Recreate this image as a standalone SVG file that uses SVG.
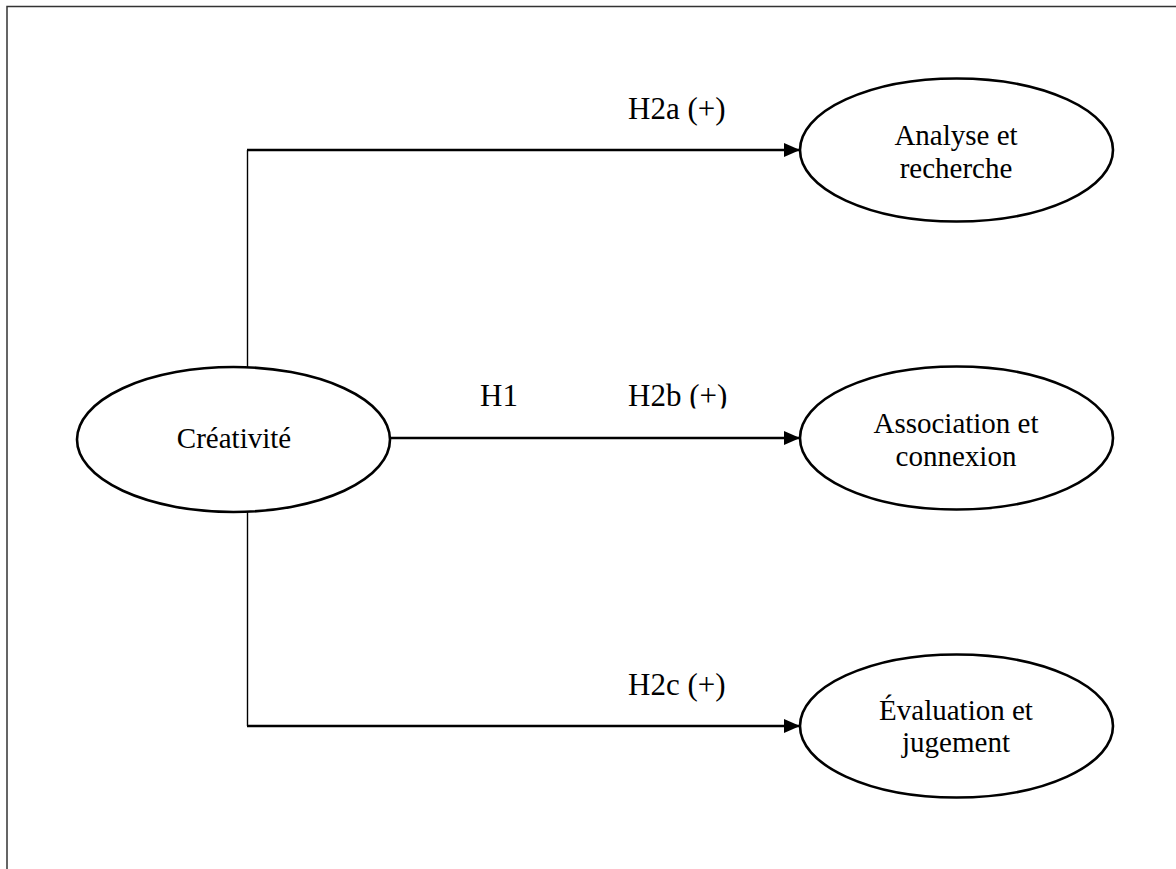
<svg xmlns="http://www.w3.org/2000/svg" width="1176" height="869" viewBox="0 0 1176 869">
  <style>
    .node ellipse { fill: #ffffff; stroke: #000000; stroke-width: 2.6; }
    .node text { font-family: "Liberation Serif", "Times New Roman", serif; font-size: 29px; fill: #000000; text-anchor: middle; }
    .label { font-family: "Liberation Serif", "Times New Roman", serif; font-size: 31px; fill: #000000; }
    .edge { fill: none; stroke: #000000; stroke-width: 2.6; }
    .trunk { fill: none; stroke: #000000; stroke-width: 1.4; }
  </style>
  <defs>
    <marker id="arrow" markerWidth="16" markerHeight="14" refX="16" refY="7" orient="auto" markerUnits="userSpaceOnUse">
      <path d="M0,0 L16,7 L0,14 Z" fill="#000000"/>
    </marker>
    <clipPath id="clipH2b">
      <rect x="0" y="0" width="1176" height="408.5"/>
    </clipPath>
  </defs>
  <rect x="0" y="0" width="1176" height="869" fill="#ffffff"/>
  <path d="M7,869 V6.5 H1176" fill="none" stroke="#333333" stroke-width="1.5"/>

  <g id="connectors">
    <path class="trunk" d="M247.5,367 V150"/>
    <path class="trunk" d="M247.5,512 V726"/>
    <path class="edge" d="M247,150 H800" marker-end="url(#arrow)"/>
    <path class="edge" d="M390,438 H800" marker-end="url(#arrow)"/>
    <path class="edge" d="M247,726 H800" marker-end="url(#arrow)"/>
    <text class="label" x="628" y="119">H2a (+)</text>
    <text class="label" x="480" y="406">H1</text>
    <text class="label" x="628" y="406" clip-path="url(#clipH2b)">H2b (+)</text>
    <text class="label" x="628" y="695">H2c (+)</text>
  </g>

  <g id="node-creativite" class="node">
    <ellipse cx="233.5" cy="439.5" rx="156.5" ry="72.5"/>
    <text x="234" y="448">Créativité</text>
  </g>
  <g id="node-analyse" class="node">
    <ellipse cx="956.5" cy="150" rx="156.5" ry="71.5"/>
    <text x="956" y="145">Analyse et</text>
    <text x="956" y="178">recherche</text>
  </g>
  <g id="node-association" class="node">
    <ellipse cx="956.5" cy="438" rx="156.5" ry="71.5"/>
    <text x="956" y="433">Association et</text>
    <text x="956" y="466">connexion</text>
  </g>
  <g id="node-evaluation" class="node">
    <ellipse cx="956.5" cy="726" rx="156.5" ry="71.5"/>
    <text x="956" y="720">Évaluation et</text>
    <text x="956" y="752">jugement</text>
  </g>
</svg>
